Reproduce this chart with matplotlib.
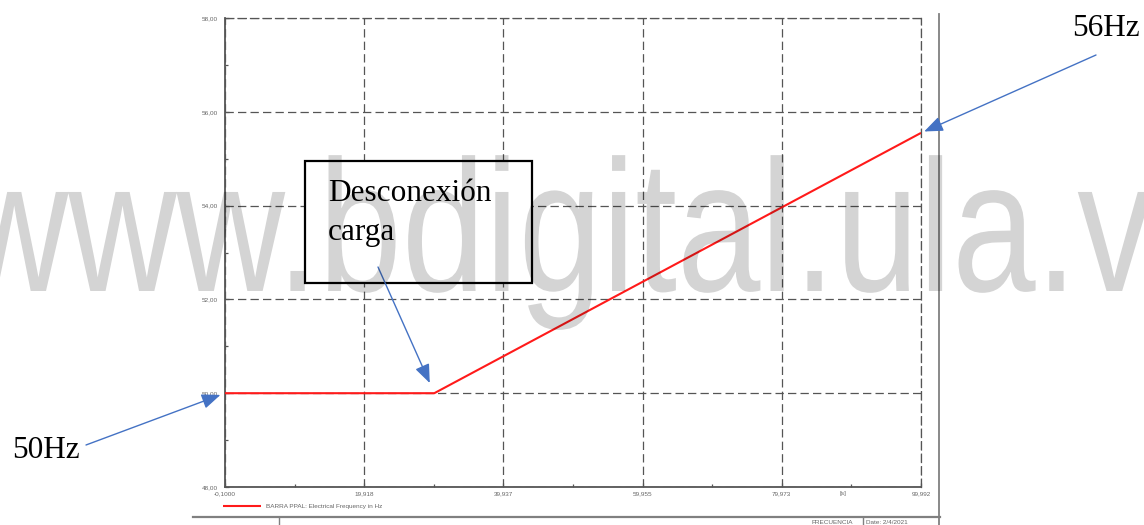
import matplotlib
matplotlib.use("Agg")
import matplotlib.pyplot as plt
from matplotlib import patheffects
from matplotlib.transforms import Affine2D
from matplotlib.patches import Rectangle
from matplotlib.lines import Line2D
from matplotlib.text import Annotation

# ---- data -------------------------------------------------------------
time_s = [-0.1000, 30.0, 99.992]
freq_hz = [50.0, 50.0, 55.55]

x_ticks = [-0.1000, 19.918, 39.937, 59.955, 79.973, 99.992]
x_tick_labels = ["-0,1000", "19,918", "39,937", "59,955", "79,973", "99,992"]
x_minor = [9.909, 29.928, 49.946, 69.964, 89.983]
y_ticks = [48, 50, 52, 54, 56, 58]
y_tick_labels = ["48,00", "50,00", "52,00", "54,00", "56,00", "58,00"]
y_minor = [49, 51, 53, 55, 57]

series_label = "BARRA PPAL: Electrical Frequency in Hz"
x_unit = "[s]"
footer_title = "FRECUENCIA"
footer_date = "Date: 2/4/2021"
watermark = "www.bdigital.ula.ve"

# ---- layout helpers (pixel -> figure fraction) ------------------------
W, H = 1144, 525


def fx(x):
    return x / W


def fy(y):
    return 1 - y / H


plt.rcParams["font.family"] = ["Liberation Sans", "DejaVu Sans"]
plt.rcParams["lines.scale_dashes"] = False

GRID = "#555555"
LABEL = "#666666"
BLUE = "#4472C4"
SERIF = ["Liberation Serif", "DejaVu Serif"]

fig = plt.figure(figsize=(W / 100, H / 100), dpi=100)
ax = fig.add_axes([fx(225), fy(487), (921 - 225) / W, (487 - 18) / H])

ax.plot(time_s, freq_hz, color="#ff1a1a", lw=1.5, label=series_label,
        zorder=3, solid_capstyle="butt")

ax.set_xlim(x_ticks[0], x_ticks[-1])
ax.set_ylim(y_ticks[0], y_ticks[-1])
ax.set_xticks(x_ticks)
ax.set_xticklabels(x_tick_labels)
ax.set_yticks(y_ticks)
ax.set_yticklabels(y_tick_labels)
ax.set_xticks(x_minor, minor=True)
ax.set_yticks(y_minor, minor=True)

ax.grid(True, which="major", color=GRID, lw=0.9, linestyle=(0, (6, 3)))
ax.set_axisbelow(True)

for side in ("left", "bottom"):
    ax.spines[side].set_color(GRID)
    ax.spines[side].set_linewidth(1.3)
for side in ("top", "right"):
    ax.spines[side].set_color(GRID)
    ax.spines[side].set_linewidth(0.9)
    ax.spines[side].set_linestyle((0, (6, 3)))

ax.tick_params(which="major", direction="in", length=3, width=0.9,
               color=GRID, labelsize=4.6, labelcolor=LABEL)
ax.tick_params(which="minor", direction="in", length=2.5, width=0.9,
               color=GRID)
ax.tick_params(axis="y", which="major", pad=5)
ax.tick_params(axis="x", which="major", pad=3)

# unit of the time axis
fig.text(fx(843), fy(494), x_unit, fontsize=4.6, color=LABEL,
         ha="center", va="center")

# legend under the plot
ax.legend(loc="center left", bbox_to_anchor=(fx(223), fy(506)),
          bbox_transform=fig.transFigure, frameon=False, fontsize=4.6,
          handlelength=6.0, handletextpad=0.8, borderpad=0,
          borderaxespad=0, labelcolor=LABEL)

# ---- page frame ------------------------------------------------------
FRAME = "#808080"
frame_lines = [
    ((939, 939), (14, 525), 1.3),
    ((193, 940), (517, 517), 1.6),
    ((279, 279), (517, 525), 1.0),
    ((863, 863), (517, 525), 1.0),
]
for xs, ys, lw in frame_lines:
    fig.add_artist(Line2D([fx(v) for v in xs], [fy(v) for v in ys],
                          color=FRAME, lw=lw, transform=fig.transFigure))
fig.text(fx(812), fy(522), footer_title, fontsize=4.6, color=LABEL,
         ha="left", va="center")
fig.text(fx(866), fy(522), footer_date, fontsize=4.6, color=LABEL,
         ha="left", va="center")

# ---- annotation box ----------------------------------------------------
fig.add_artist(Rectangle((fx(305), fy(283)), (532 - 305) / W, (283 - 161) / H,
                         transform=fig.transFigure, facecolor="white",
                         edgecolor="black", lw=1.6, zorder=3))
fig.text(fx(328), fy(201), "Desconexión", fontsize=22.5, family=SERIF,
         color="black", ha="left", va="baseline", zorder=3.5)
fig.text(fx(328), fy(240), "carga", fontsize=22.5, family=SERIF,
         color="black", ha="left", va="baseline", zorder=3.5)

fig.text(fx(1072), fy(36), "56Hz", fontsize=22.5, family=SERIF,
         color="black", ha="left", va="baseline", zorder=3.5)
fig.text(fx(12), fy(458), "50Hz", fontsize=22.5, family=SERIF,
         color="black", ha="left", va="baseline", zorder=3.5)

arrow_style = dict(arrowstyle="-|>,head_length=0.95,head_width=0.38",
                   color=BLUE, lw=1.0, mutation_scale=12, shrinkA=0)
arrows = [
    ((time_s[0], freq_hz[0]), (86, 445), 3.5),
    ((time_s[-1], freq_hz[-1]), (1096, 55), 2.5),
    ((time_s[1], freq_hz[1]), (378, 267), 8.0),
]
for xy, start, shrink in arrows:
    ann = Annotation("", xy=xy, xycoords=ax.transData,
                     xytext=(start[0], H - start[1]),
                     textcoords="figure pixels",
                     arrowprops=dict(arrow_style, shrinkB=shrink),
                     annotation_clip=False)
    ann.set_zorder(4)
    fig.add_artist(ann)


# ---- watermark -----------------------------------------------------------
class Stretch(patheffects.AbstractPathEffect):
    """Scale glyph outlines about a fixed display point."""

    def __init__(self, sx, sy, origin):
        super().__init__()
        self._sx, self._sy, self._origin = sx, sy, origin

    def draw_path(self, renderer, gc, tpath, affine, rgbFace=None):
        x0, y0 = self._origin
        extra = (Affine2D().translate(-x0, -y0)
                 .scale(self._sx, self._sy).translate(x0, y0))
        renderer.draw_path(gc, tpath, affine + extra, rgbFace)


wm_x, wm_base = -40, 291
fig.text(fx(wm_x), fy(wm_base), watermark, fontsize=108,
         family=["Liberation Sans", "DejaVu Sans"], color="black",
         alpha=0.17, ha="left", va="baseline", zorder=10,
         path_effects=[Stretch(1.0, 1.25, (wm_x, H - wm_base))])

fig.savefig("out.png", dpi=100)
